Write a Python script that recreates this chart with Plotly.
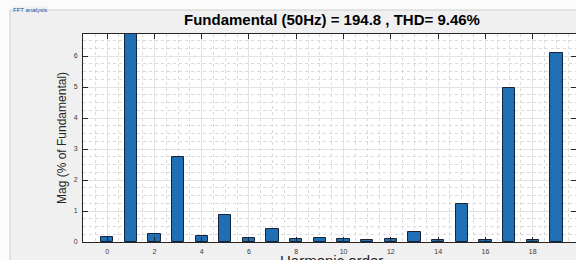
import plotly.graph_objects as go

# ---- data ----
harmonic_order = list(range(0, 20))
magnitude_pct = [0.15, 100.0, 0.26, 2.73, 0.18, 0.87, 0.14, 0.41, 0.10, 0.14,
                 0.09, 0.05, 0.09, 0.31, 0.07, 1.24, 0.07, 4.97, 0.05, 6.10]
x_tick_values = [0, 2, 4, 6, 8, 10, 12, 14, 16, 18, 20]
x_tick_labels = [str(v) for v in x_tick_values]
y_tick_values = [0, 1, 2, 3, 4, 5, 6]
y_tick_labels = [str(v) for v in y_tick_values]
title_text = "Fundamental (50Hz) = 194.8 , THD= 9.46%"
panel_label = "FFT analysis"
x_title = "Harmonic order"
y_title = "Mag (% of Fundamental)"

W, H = 576, 260
L, R, T, B = 83, 0, 34, 18
PW, PH = W - L - R, H - T - B


def px(x):
    return (x - L) / PW


def py(y):
    return (H - B - y) / PH


AX = "#262626"
fig = go.Figure()
fig.add_trace(go.Bar(
    x=harmonic_order, y=magnitude_pct, width=0.52,
    marker=dict(color="#1f6fb4", line=dict(color="#15243a", width=1)),
    hoverinfo="x+y",
))

axis_common = dict(
    showline=True, linecolor=AX, linewidth=1, mirror="ticks",
    ticks="inside", ticklen=5, tickcolor=AX, tickwidth=1,
    showgrid=True, gridcolor="#e3e3e3", gridwidth=1, zeroline=False,
    tickfont=dict(family="Liberation Sans, Arial, sans-serif", size=7, color="#3a3a3a"),
)

fig.update_xaxes(range=[-1.02, 19.83], tickmode="array", tickvals=x_tick_values,
                 ticktext=x_tick_labels, ticklabelstandoff=3,
                 minor=dict(dtick=0.5, showgrid=True, griddash="dot", gridcolor="#dadada", ticks=""),
                 **axis_common)
fig.update_yaxes(range=[0, 6.71], tickmode="array", tickvals=y_tick_values,
                 ticktext=y_tick_labels, ticklabelstandoff=3,
                 minor=dict(dtick=0.25, showgrid=True, griddash="dot", gridcolor="#dadada", ticks=""),
                 **axis_common)

shapes = [
    # white outside strips
    dict(type="rect", xref="paper", yref="paper", x0=px(0), x1=px(W), y0=py(10), y1=py(0),
         fillcolor="#fbfbfb", line=dict(width=0), layer="below"),
    dict(type="rect", xref="paper", yref="paper", x0=px(0), x1=px(10), y0=py(H), y1=py(0),
         fillcolor="#fbfbfb", line=dict(width=0), layer="below"),
    # group box border
    dict(type="line", xref="paper", yref="paper", x0=px(10), x1=px(W), y0=py(10), y1=py(10),
         line=dict(color="#cdcdcd", width=1), layer="below"),
    dict(type="line", xref="paper", yref="paper", x0=px(10), x1=px(10), y0=py(10), y1=py(H),
         line=dict(color="#cdcdcd", width=1), layer="below"),
]

annotations = [
    dict(text=panel_label, xref="paper", yref="paper", x=px(12), y=py(10),
         xanchor="left", yanchor="middle", showarrow=False, bgcolor="#f0f0f0",
         font=dict(family="Liberation Sans, Arial, sans-serif", size=6, color="#2a3fa0"),
         borderpad=0),
    dict(text="<b>" + title_text + "</b>", xref="paper", yref="paper", x=px(331.5), y=py(19),
         xanchor="center", yanchor="middle", showarrow=False,
         font=dict(family="Liberation Sans, Arial, sans-serif", size=15, color="#000000")),
    dict(text=y_title, xref="paper", yref="paper", x=px(62), y=py(138), textangle=-90,
         xanchor="center", yanchor="middle", showarrow=False,
         font=dict(family="Liberation Sans, Arial, sans-serif", size=12, color="#262626")),
    dict(text=x_title, xref="paper", yref="paper", x=px(331.5), y=py(249.5),
         xanchor="center", yanchor="top", showarrow=False,
         font=dict(family="Liberation Sans, Arial, sans-serif", size=15, color="#262626")),
]

fig.update_layout(
    width=W, height=H, margin=dict(l=L, r=R, t=T, b=B, pad=0),
    paper_bgcolor="#f0f0f0", plot_bgcolor="#ffffff",
    showlegend=False, bargap=0,
    shapes=shapes, annotations=annotations,
)

fig.write_html("out.html", config={"displayModeBar": False},
               post_script="document.body.style.margin='0px';document.body.style.overflow='hidden';")
